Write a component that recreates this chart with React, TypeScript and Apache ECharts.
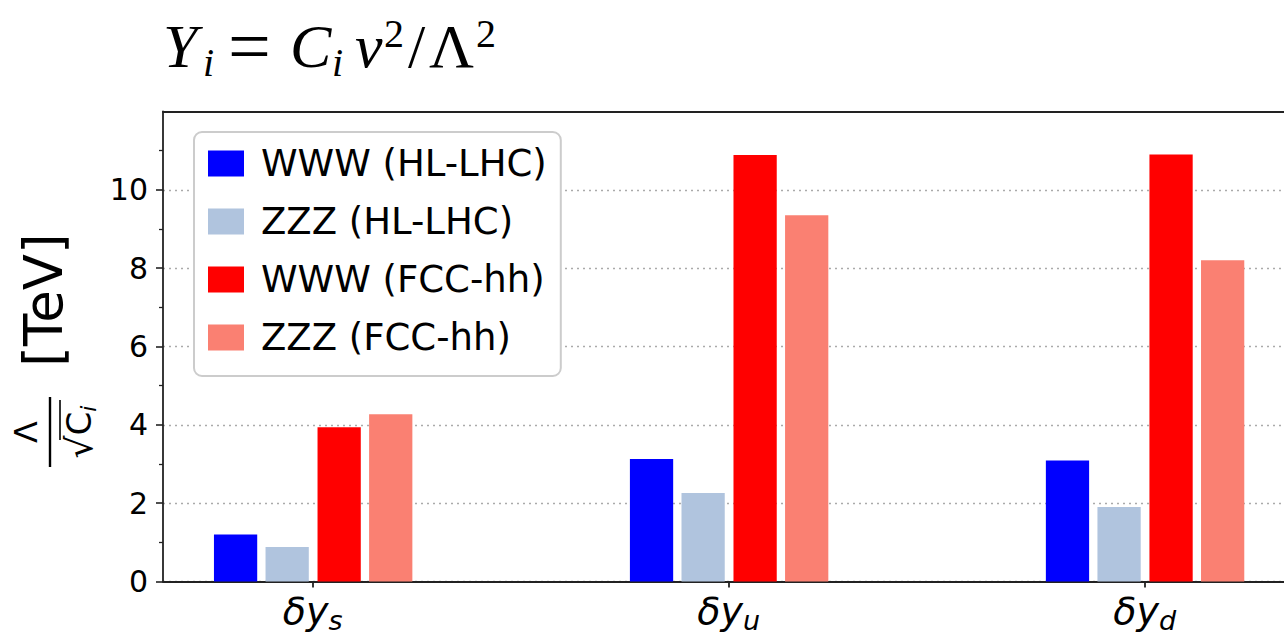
import React, { useEffect, useRef } from "react";
import * as echarts from "echarts";

// Operators (x-axis categories) and the four bar series
const categories = ["s", "u", "d"];
const seriesNames = ["WWW (HL-LHC)", "ZZZ (HL-LHC)", "WWW (FCC-hh)", "ZZZ (FCC-hh)"];
const seriesColors = ["#0000ff", "#b0c4de", "#ff0000", "#fa8072"];
const wwwHL = [1.2, 3.13, 3.09];
const zzzHL = [0.88, 2.26, 1.9];
const wwwFCC = [3.94, 10.89, 10.9];
const zzzFCC = [4.27, 9.35, 8.2];
const yTicks = [0, 2, 4, 6, 8, 10];

const allValues = [wwwHL, zzzHL, wwwFCC, zzzFCC];
const offsets = [-0.1855, -0.0615, 0.0635, 0.1875];
const BAR_W = 0.104;

const SANS = '"DejaVu Sans", "Noto Sans", sans-serif';
const SERIF = '"Liberation Serif", "DejaVu Serif", serif';

// Pieces of the heading formula Y_i = C_i v^2 / Λ^2: [text, x, kind]
const formulaPieces: [string, number, string][] = [
  ["Y", 0, "it"],
  ["i", 40, "sub"],
  ["=", 65, "eq"],
  ["C", 127, "it"],
  ["i", 169, "sub"],
  ["v", 192, "it"],
  ["2", 221, "sup"],
  ["/", 245, "rm"],
  ["Λ", 266, "rm"],
  ["2", 313, "sup"],
];

export default function App() {
  const ref = useRef<HTMLDivElement>(null);

  useEffect(() => {
    if (!ref.current) return;
    const chart = echarts.init(ref.current, null, { renderer: "svg" });

    const series = allValues.map((vals, s) => ({
      type: "custom",
      name: seriesNames[s],
      xAxisIndex: 0,
      yAxisIndex: 0,
      itemStyle: { color: seriesColors[s] },
      data: vals.map((v, i) => [i + offsets[s], v]),
      renderItem: (_params: any, api: any) => {
        const x = api.value(0);
        const v = api.value(1);
        const p0 = api.coord([x - BAR_W / 2, v]);
        const p1 = api.coord([x + BAR_W / 2, 0]);
        return {
          type: "rect",
          shape: { x: p0[0], y: p0[1], width: p1[0] - p0[0], height: p1[1] - p0[1] },
          style: { fill: seriesColors[s] },
        };
      },
    }));

    const axisColor = "#222";

    const pieceStyle: Record<string, any> = {
      it: { fontFamily: SERIF, fontStyle: "italic", fontSize: 62, y: 0 },
      rm: { fontFamily: SERIF, fontSize: 62, y: 0 },
      eq: { fontFamily: SERIF, fontSize: 76, y: 0 },
      sub: { fontFamily: SERIF, fontStyle: "italic", fontSize: 40, y: 16 },
      sup: { fontFamily: SERIF, fontSize: 40, y: -13 },
    };

    const formulaChildren = formulaPieces.map(([t, x, kind]) => {
      const st = pieceStyle[kind];
      return {
        type: "text",
        x,
        y: st.y,
        style: {
          text: t,
          fontFamily: st.fontFamily,
          fontStyle: st.fontStyle || "normal",
          fontSize: st.fontSize,
          fill: "#000",
          align: "left",
          verticalAlign: "middle",
        },
      };
    });

    chart.setOption({
      animation: false,
      backgroundColor: "#ffffff",
      grid: {
        left: 163,
        top: 111.5,
        right: 0,
        bottom: 640 - 581.5,
      },
      xAxis: [
        {
          type: "value",
          min: -0.36,
          max: 2.335,
          axisLine: { show: true, onZero: false, lineStyle: { color: axisColor, width: 1.8 } },
          axisTick: { show: true, customValues: [0, 1, 2], length: 6, lineStyle: { color: axisColor, width: 1.8 } },
          splitLine: { show: false },
          axisLabel: {
            customValues: [0, 1, 2],
            margin: 6,
            formatter: (v: number) => `{m|δy}{s|${categories[Math.round(v)]}}`,
            rich: {
              m: { fontFamily: SANS, fontStyle: "italic", fontSize: 38, lineHeight: 46, color: "#000", verticalAlign: "middle" },
              s: { fontFamily: SANS, fontStyle: "italic", fontSize: 27, lineHeight: 22, color: "#000", verticalAlign: "bottom" },
            },
          },
        },
        {
          // top frame of the axes box
          type: "value",
          position: "top",
          min: -0.36,
          max: 2.335,
          axisLine: { show: true, onZero: false, lineStyle: { color: axisColor, width: 1.8 } },
          axisTick: { show: false },
          axisLabel: { show: false },
          splitLine: { show: false },
        },
      ],
      yAxis: {
        type: "value",
        min: 0,
        max: 12,
        interval: 2,
        axisLine: { show: true, onZero: false, lineStyle: { color: axisColor, width: 1.8 } },
        axisTick: { show: true, customValues: yTicks, length: 7, lineStyle: { color: axisColor, width: 1.6 } },
        minorTick: { show: true, splitNumber: 2, length: 4, lineStyle: { color: axisColor, width: 1.3 } },
        splitLine: { show: true, lineStyle: { color: "#aaaaaa", type: [2, 4], width: 1.4 } },
        axisLabel: {
          customValues: yTicks,
          margin: 15,
          fontFamily: SANS,
          fontSize: 30,
          color: "#000",
        },
      },
      legend: {
        orient: "vertical",
        left: 194,
        top: 132,
        selectedMode: false,
        data: seriesNames,
        icon: "rect",
        itemWidth: 36,
        itemHeight: 26,
        itemGap: 21,
        padding: [13, 14, 20, 14],
        backgroundColor: "#ffffff",
        borderColor: "#cccccc",
        borderWidth: 2,
        borderRadius: 8,
        textStyle: { fontFamily: SANS, fontSize: 37, color: "#000", lineHeight: 36, padding: [0, 0, 0, 12] },
      },
      graphic: [
        {
          type: "group",
          x: 163,
          y: 46,
          children: formulaChildren,
        },
        {
          type: "group",
          x: 50,
          y: 432,
          rotation: Math.PI / 2,
          children: [
            {
              type: "text",
              x: 0,
              y: -24,
              style: { text: "Λ", fontFamily: SANS, fontSize: 32, fill: "#000", align: "center", verticalAlign: "middle" },
            },
            {
              type: "line",
              shape: { x1: -35, y1: 0, x2: 35, y2: 0 },
              style: { stroke: "#000", lineWidth: 2.4 },
            },
            {
              type: "text",
              x: 0,
              y: 29,
              style: {
                text: "{r|√}{c|C}{s|i}",
                align: "center",
                verticalAlign: "middle",
                rich: {
                  r: { fontFamily: SANS, fontSize: 36, lineHeight: 40, fill: "#000", verticalAlign: "middle" },
                  c: { fontFamily: SANS, fontSize: 34, lineHeight: 40, fill: "#000", verticalAlign: "middle" },
                  s: { fontFamily: SANS, fontStyle: "italic", fontSize: 22, lineHeight: 22, fill: "#000", verticalAlign: "bottom" },
                },
              },
            },
            {
              type: "line",
              shape: { x1: -8, y1: 10, x2: 32, y2: 10 },
              style: { stroke: "#000", lineWidth: 1.6 },
            },
            {
              type: "text",
              x: 132,
              y: -7,
              style: { text: "[TeV]", fontFamily: SANS, fontSize: 53, fill: "#000", align: "center", verticalAlign: "middle" },
            },
          ],
        },
      ],
      series,
    });

    return () => chart.dispose();
  }, []);

  return (
    <div
      ref={ref}
      style={{ position: "absolute", left: 0, top: 0, width: 1284, height: 640, background: "#fff" }}
    />
  );
}
